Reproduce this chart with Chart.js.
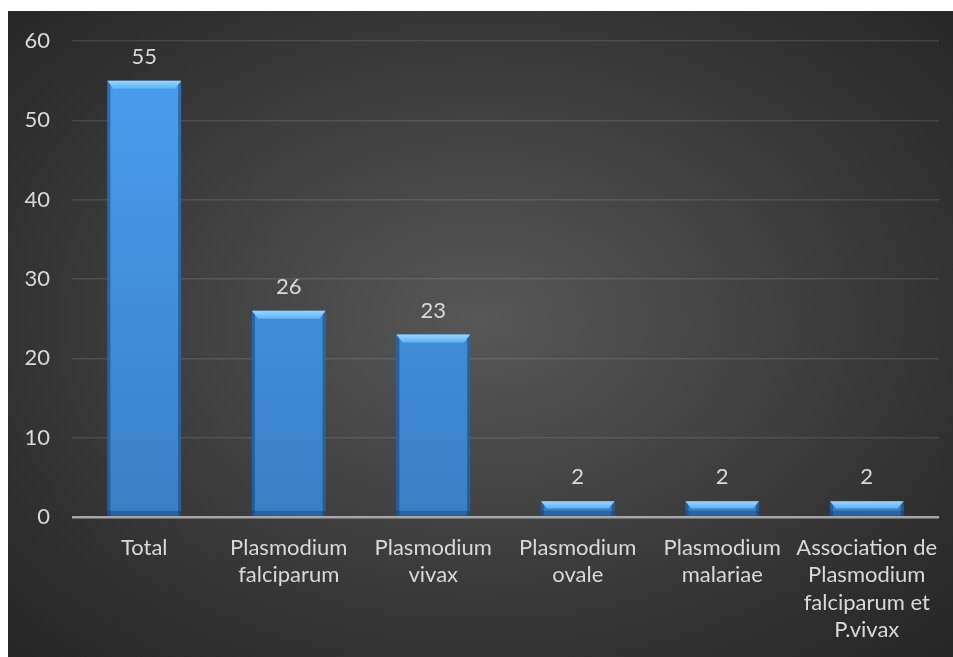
<!DOCTYPE html>
<html>
<head>
<meta charset="utf-8">
<script src="https://cdn.jsdelivr.net/npm/chart.js@4"></script>
<style>
  html, body { margin: 0; padding: 0; background: #ffffff; }
  #frame {
    position: absolute; left: 8px; top: 11px; width: 945px; height: 646px;
    background: radial-gradient(ellipse at 50% 48%, #575757 0%, #454545 35%, #2e2e2e 80%, #262626 100%);
  }
  canvas { display: block; }
</style>
</head>
<body>
<div id="frame"><canvas id="speciesChart" width="945" height="646"></canvas></div>
<script>
// categories and counts
const categories = [
    'Total',
    ['Plasmodium', 'falciparum'],
    ['Plasmodium', 'vivax'],
    ['Plasmodium', 'ovale'],
    ['Plasmodium', 'malariae'],
    ['Association de', 'Plasmodium', 'falciparum et', 'P.vivax']
];
const counts = [55, 26, 23, 2, 2, 2];
const yTicks = [0, 10, 20, 30, 40, 50, 60];

const textColor = '#d9d9d9';
const fontFamily = 'Lato, "Open Sans", sans-serif';

// bevel look on each bar
const bevelPlugin = {
    id: 'bevel',
    afterDatasetsDraw(chart) {
        const ctx = chart.ctx;
        chart.getDatasetMeta(0).data.forEach(bar => {
            const left = bar.x - bar.width / 2;
            const right = bar.x + bar.width / 2;
            const top = bar.y;
            const bottom = bar.base;
            const h = Math.min(8, (bottom - top) / 2);
            ctx.save();
            // side shading
            ctx.fillStyle = 'rgba(15, 50, 100, 0.45)';
            ctx.fillRect(left, top, 3, bottom - top);
            ctx.fillRect(right - 3, top, 3, bottom - top);
            ctx.fillStyle = 'rgba(15, 50, 100, 0.35)';
            ctx.fillRect(left, bottom - 5, right - left, 5);
            // top bevel
            const g = ctx.createLinearGradient(0, top, 0, top + h);
            g.addColorStop(0, '#9ad6ff');
            g.addColorStop(1, '#5cb2f6');
            ctx.fillStyle = g;
            ctx.beginPath();
            ctx.moveTo(left, top);
            ctx.lineTo(right, top);
            ctx.lineTo(right - 6, top + h);
            ctx.lineTo(left + 6, top + h);
            ctx.closePath();
            ctx.fill();
            ctx.restore();
        });
    }
};

// value labels above bars
const valueLabels = {
    id: 'valueLabels',
    afterDatasetsDraw(chart) {
        const ctx = chart.ctx;
        ctx.save();
        ctx.fillStyle = textColor;
        ctx.font = '22px ' + fontFamily;
        ctx.textAlign = 'center';
        ctx.textBaseline = 'alphabetic';
        chart.getDatasetMeta(0).data.forEach((bar, i) => {
            ctx.fillText(String(counts[i]), bar.x, bar.y - 17);
        });
        ctx.restore();
    }
};

const ctx = document.getElementById('speciesChart').getContext('2d');
new Chart(ctx, {
    type: 'bar',
    data: {
        labels: categories,
        datasets: [{
            data: counts,
            backgroundColor: (c) => {
                const area = c.chart.chartArea;
                if (!area) return '#4495e6';
                const g = c.chart.ctx.createLinearGradient(0, area.top, 0, area.bottom);
                g.addColorStop(0, '#4a9ff0');
                g.addColorStop(1, '#3a7fc6');
                return g;
            },
            borderWidth: 0,
            categoryPercentage: 1,
            barPercentage: 0.51
        }]
    },
    options: {
        responsive: false,
        animation: false,
        layout: { padding: { left: 0, right: 14, top: 30, bottom: 0 } },
        plugins: {
            legend: { display: false },
            tooltip: { enabled: false }
        },
        scales: {
            x: {
                afterFit: (s) => { s.height = 140; },
                grid: { display: false },
                border: { display: false },
                ticks: {
                    color: textColor,
                    font: { family: fontFamily, size: 22, lineHeight: 1.25 },
                    maxRotation: 0,
                    autoSkip: false,
                    padding: 9
                }
            },
            y: {
                min: 0,
                max: 60,
                afterFit: (s) => { s.width = 64; s.paddingTop = 0; },
                afterBuildTicks: (s) => { s.ticks = yTicks.map(v => ({ value: v })); },
                border: { display: false },
                grid: {
                    drawTicks: false,
                    color: (c) => c.tick && c.tick.value === 0 ? '#a6a6a6' : 'rgba(255,255,255,0.11)',
                    lineWidth: (c) => c.tick && c.tick.value === 0 ? 2.5 : 1.5
                },
                ticks: {
                    color: textColor,
                    font: { family: fontFamily, size: 22 },
                    padding: 22
                }
            }
        }
    },
    plugins: [bevelPlugin, valueLabels]
});
</script>
</body>
</html>
